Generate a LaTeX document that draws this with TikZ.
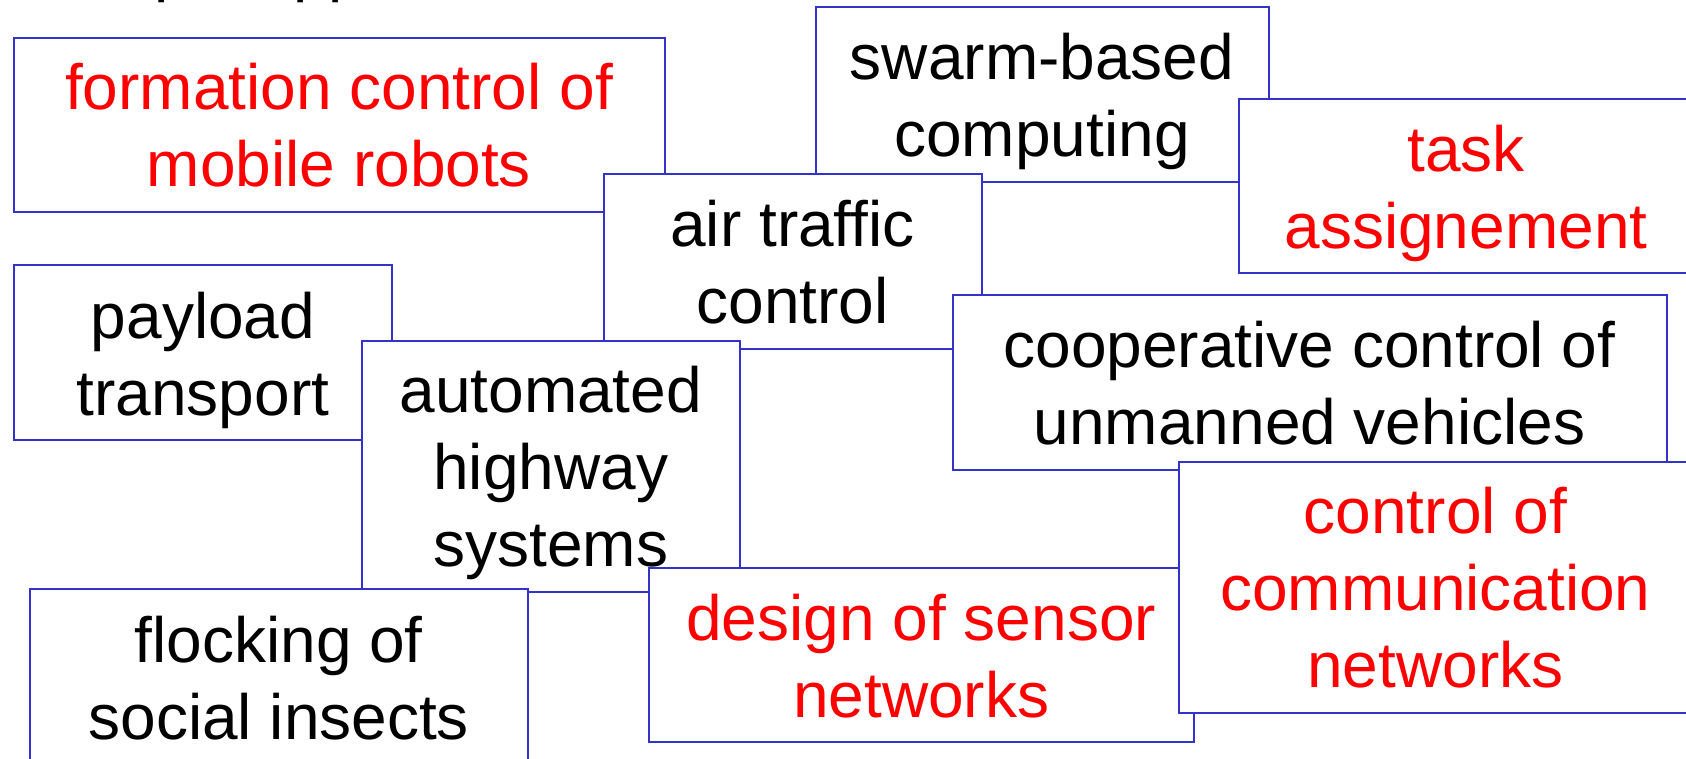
\documentclass[tikz,border=0pt]{standalone}
\usepackage{fontspec}
\setmainfont{Liberation Sans}
\definecolor{frameblue}{RGB}{51,51,204}
\definecolor{hotred}{RGB}{255,0,0}
\tikzset{
  panel/.style={draw=frameblue, line width=1pt, fill=white, inner sep=0pt,
                outer sep=0pt, anchor=north west, rectangle},
  lbl/.style={inner sep=0pt, align=center, font=\fontsize{32}{38.5}\selectfont},
  hot/.style={lbl, text=hotred},
}
\begin{document}
\begin{tikzpicture}[x=0.5pt, y=-0.5pt]
\useasboundingbox (0,0) rectangle (1686,759);

% heading line, mostly above the page edge
\begin{scope}
  \clip (0,0) rectangle (1686,759);
  \node[lbl, anchor=base west] (heading) at (22.5,-10.1) {Sample applications};
\end{scope}

% panels, back to front
\node[panel, minimum width=325.25pt, minimum height=87.15pt] (formation) at (14,37.7) {};
\node[hot] (formation-t) at (339,133.1) {\strut formation control of\\mobile robots\strut};

\node[panel, minimum width=226.65pt, minimum height=87.5pt] (swarm) at (815.5,7.3) {};
\node[lbl] (swarm-t) at (1042,103.1) {\strut swarm-based\\computing\strut};

\node[panel, minimum width=188.8pt, minimum height=87.5pt] (payload) at (14,264.7) {};
\node[lbl] (payload-t) at (203,361.4) {\strut payload\\transport\strut};

\node[panel, minimum width=189.05pt, minimum height=87.25pt] (air) at (603.5,174.2) {};
\node[lbl] (air-t) at (792.5,269.8) {\strut air traffic\\control\strut};

\node[panel, minimum width=227.65pt, minimum height=87.15pt] (task) at (1238.7,98.7) {};
\node[hot] (task-t) at (1466,194.8) {\strut task\\assignement\strut};

\node[panel, minimum width=189.05pt, minimum height=125.65pt] (highway) at (361.7,340.7) {};
\node[lbl] (highway-t) at (550.75,474.3) {\strut automated\\highway\\systems\strut};

\node[panel, minimum width=357.05pt, minimum height=87.35pt] (coop) at (952.5,295.3) {};
\node[lbl] (coop-t) at (1309.5,390.4) {\strut cooperative control of\\unmanned vehicles\strut};

\node[panel, minimum width=249.2pt, minimum height=87.85pt] (flock) at (29.6,589.3) {};
\node[lbl] (flock-t) at (278.8,685.8) {\strut flocking of\\social insects\strut};

\node[panel, minimum width=272.25pt, minimum height=87.25pt] (sensor) at (649,567.5) {};
\node[hot] (sensor-t) at (921.2,663.1) {\strut design of sensor\\networks\strut};

\node[panel, minimum width=256.75pt, minimum height=125.5pt] (comm) at (1178.5,461.7) {};
\node[hot] (comm-t) at (1435.4,594.9) {\strut control of\\communication\\networks\strut};
\end{tikzpicture}
\end{document}
